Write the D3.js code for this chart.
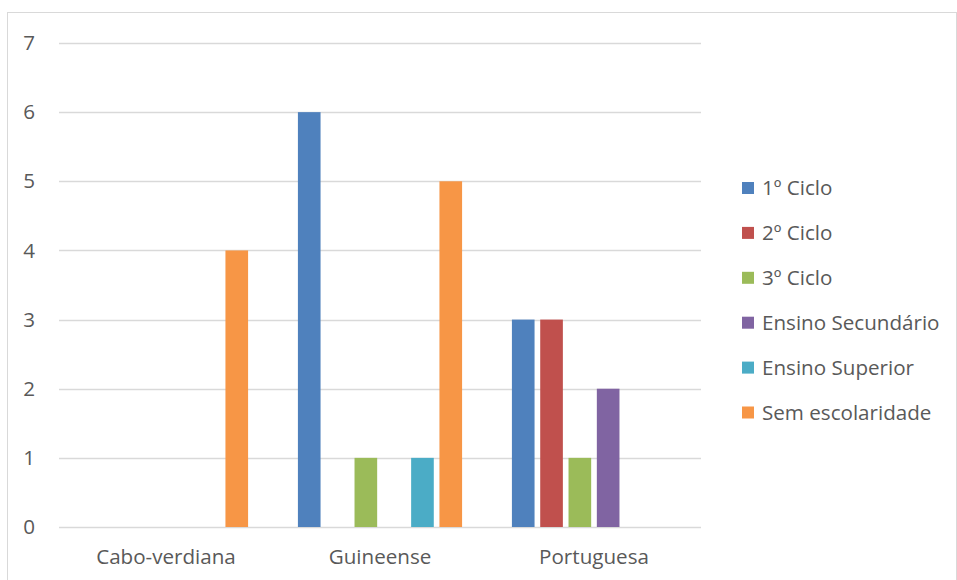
<!DOCTYPE html>
<html><head><meta charset="utf-8">
<script src="https://cdn.jsdelivr.net/npm/d3@7"></script>
<style>body{margin:0;background:#fff}svg{display:block}</style>
</head><body>
<script>
const categories = ["Cabo-verdiana", "Guineense", "Portuguesa"];
const seriesNames = ["1º Ciclo", "2º Ciclo", "3º Ciclo", "Ensino Secundário", "Ensino Superior", "Sem escolaridade"];
const s1Ciclo = [0, 6, 3];
const s2Ciclo = [0, 0, 3];
const s3Ciclo = [0, 1, 1];
const sSecundario = [0, 0, 2];
const sSuperior = [0, 1, 0];
const sSemEscolaridade = [4, 5, 0];
const yTicks = [0, 1, 2, 3, 4, 5, 6, 7];
const colors = ["#4F81BD", "#C0504D", "#9BBB59", "#8064A2", "#4BACC6", "#F79646"];

const seriesValues = [s1Ciclo, s2Ciclo, s3Ciclo, sSecundario, sSuperior, sSemEscolaridade];
const W = 957, H = 580;
const svg = d3.select("body").append("svg").attr("width", W).attr("height", H);
const font = "'Open Sans', sans-serif";
const textColor = "#595959";
const fs = 20.6;

svg.append("rect").attr("x", 7.5).attr("y", 12.5).attr("width", 949).attr("height", 580)
  .attr("fill", "#fff").attr("stroke", "#D9D9D9").attr("stroke-width", 1);

const plot = {x0: 59, x1: 701, y0: 43, y1: 527};
const y = d3.scaleLinear().domain([0, 7]).range([plot.y1, plot.y0]);
const x0 = d3.scaleBand().domain(categories).range([plot.x0, plot.x1]).padding(0);
const x1 = d3.scaleBand().domain(seriesNames).range([0, x0.bandwidth()]).paddingInner(0.2).paddingOuter(0.88);

// gridlines
svg.append("g").selectAll("line").data(yTicks).join("line")
  .attr("x1", plot.x0).attr("x2", plot.x1)
  .attr("y1", d => Math.round(y(d)) + 0.5).attr("y2", d => Math.round(y(d)) + 0.5)
  .attr("stroke", "#D9D9D9").attr("stroke-width", 1.3);

// y labels
svg.append("g").selectAll("text").data(yTicks).join("text")
  .attr("x", 35).attr("y", d => y(d)).attr("dy", "0.35em")
  .attr("text-anchor", "end").attr("font-family", font).attr("font-size", fs)
  .attr("fill", textColor).text(d => d);

// bars
const groups = svg.append("g").selectAll("g").data(categories).join("g")
  .attr("transform", c => `translate(${x0(c)},0)`);
groups.selectAll("rect").data((c, ci) => seriesNames.map((s, si) => ({s, si, v: seriesValues[si][ci]})).filter(d => d.v > 0))
  .join("rect")
  .attr("x", d => x1(d.s)).attr("width", x1.bandwidth())
  .attr("y", d => y(d.v)).attr("height", d => y(0) - y(d.v))
  .attr("fill", d => colors[d.si]);

// x labels
svg.append("g").selectAll("text").data(categories).join("text")
  .attr("x", c => x0(c) + x0.bandwidth() / 2).attr("y", 564)
  .attr("text-anchor", "middle").attr("font-family", font).attr("font-size", fs)
  .attr("fill", textColor).text(c => c);

// legend
const leg = svg.append("g").selectAll("g").data(seriesNames).join("g")
  .attr("transform", (d, i) => `translate(742, ${188 + i * 44.9})`);
leg.append("rect").attr("x", 0).attr("y", -6).attr("width", 12).attr("height", 12)
  .attr("fill", (d, i) => colors[i]);
leg.append("text").attr("x", 20).attr("y", 0).attr("dy", "0.35em")
  .attr("font-family", font).attr("font-size", fs).attr("fill", textColor).text(d => d);
</script>
</body></html>
